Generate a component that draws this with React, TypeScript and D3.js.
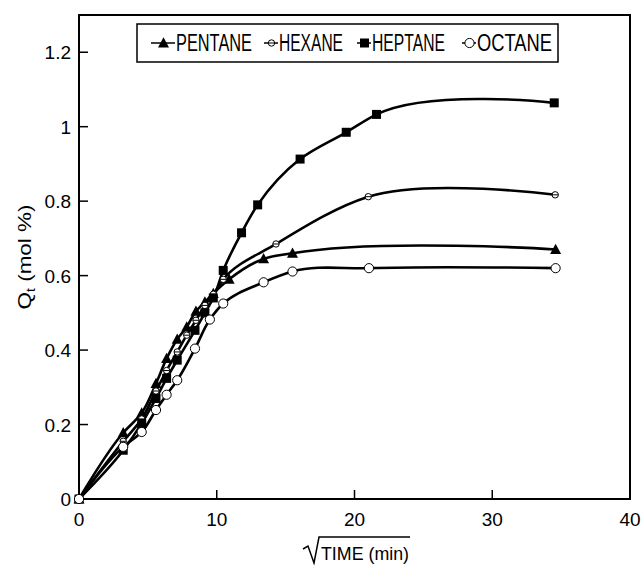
import React from "react";
import * as d3 from "d3";

const pentaneX = [0, 3.21, 4.55, 5.59, 6.36, 7.13, 7.82, 8.49, 9.14, 9.75, 10.9, 13.4, 15.5, 34.6];
const pentaneY = [0, 0.178, 0.231, 0.31, 0.377, 0.429, 0.462, 0.504, 0.529, 0.552, 0.59, 0.645, 0.66, 0.67];

const hexaneX = [0, 3.21, 4.55, 5.59, 6.36, 7.13, 7.82, 8.49, 9.14, 9.75, 10.47, 14.3, 21.0, 34.57];
const hexaneY = [0, 0.155, 0.215, 0.29, 0.345, 0.395, 0.44, 0.48, 0.52, 0.55, 0.59, 0.685, 0.812, 0.817];

const heptaneX = [0, 3.21, 4.55, 5.59, 6.36, 7.13, 8.42, 9.14, 9.75, 10.47, 11.8, 12.97, 16.05, 19.4, 21.6, 34.5];
const heptaneY = [0, 0.131, 0.203, 0.27, 0.324, 0.373, 0.453, 0.5, 0.54, 0.614, 0.715, 0.79, 0.913, 0.985, 1.033, 1.064];

const octaneX = [0, 3.21, 4.55, 5.59, 6.36, 7.13, 8.42, 9.5, 10.47, 13.4, 15.5, 21.05, 34.6];
const octaneY = [0, 0.14, 0.18, 0.239, 0.28, 0.319, 0.404, 0.482, 0.525, 0.582, 0.611, 0.62, 0.62];

const seriesNames = ["PENTANE", "HEXANE", "HEPTANE", "OCTANE"];
const xTicks = [0, 10, 20, 30, 40];
const yTicks = [0, 0.2, 0.4, 0.6, 0.8, 1, 1.2];

const W = 642, H = 565;
const L = 79, R = 630, T = 15, B = 499;

const FONT = "'Liberation Sans Narrow', 'Liberation Sans', Arial, sans-serif";

function Marker({ kind, x, y }: { kind: string; x: number; y: number }) {
  if (kind === "PENTANE") {
    const s = 5.5;
    return <path d={`M${x},${y - s * 1.05}L${x + s},${y + s * 0.8}L${x - s},${y + s * 0.8}Z`} fill="#000" />;
  }
  if (kind === "HEXANE") {
    return (
      <g>
        <circle cx={x} cy={y} r={3.2} fill="#fff" stroke="#000" strokeWidth={1} />
        <line x1={x - 3.2} x2={x + 3.2} y1={y} y2={y} stroke="#000" strokeWidth={1} />
      </g>
    );
  }
  if (kind === "HEPTANE") {
    return <rect x={x - 4.5} y={y - 4.5} width={9} height={9} fill="#000" />;
  }
  return <circle cx={x} cy={y} r={4.6} fill="#fff" stroke="#000" strokeWidth={1} />;
}

export default function App() {
  const x = d3.scaleLinear().domain([0, 40]).range([L, R]);
  const y = d3.scaleLinear().domain([0, 1.3]).range([B, T]);

  const data: { name: string; xs: number[]; ys: number[] }[] = [
    { name: "PENTANE", xs: pentaneX, ys: pentaneY },
    { name: "HEXANE", xs: hexaneX, ys: hexaneY },
    { name: "HEPTANE", xs: heptaneX, ys: heptaneY },
    { name: "OCTANE", xs: octaneX, ys: octaneY },
  ];

  const line = d3
    .line<[number, number]>()
    .x((d) => x(d[0]))
    .y((d) => y(d[1]))
    .curve(d3.curveCatmullRom.alpha(1));

  const legendItems = [
    { name: seriesNames[0], sx: 151, tx: 176, tw: 76 },
    { name: seriesNames[1], sx: 264, tx: 279, tw: 64 },
    { name: seriesNames[2], sx: 357, tx: 372, tw: 73 },
    { name: seriesNames[3], sx: 462, tx: 477, tw: 75 },
  ];

  return (
    <svg width={W} height={H} style={{ position: "absolute", left: 0, top: 0, background: "#fff" }}>
      <rect x={0} y={0} width={W} height={H} fill="#fff" />
      <rect x={L} y={T} width={R - L} height={B - T} fill="none" stroke="#000" strokeWidth={2} />
      {yTicks.map((t) => (
        <g key={"y" + t}>
          <line x1={L} x2={L + 9} y1={y(t)} y2={y(t)} stroke="#000" strokeWidth={1.5} />
          <text x={L - 8} y={y(t) + 7} textAnchor="end" fontFamily={FONT} fontSize={19} fill="#000">
            {String(t)}
          </text>
        </g>
      ))}
      {xTicks.map((t) => (
        <g key={"x" + t}>
          {t > 0 && t < 40 && (
            <line x1={x(t)} x2={x(t)} y1={B} y2={B - 9} stroke="#000" strokeWidth={1.5} />
          )}
          <text x={x(t)} y={B + 27} textAnchor="middle" fontFamily={FONT} fontSize={19} fill="#000">
            {String(t)}
          </text>
        </g>
      ))}
      <path d="M303,549 L308,546 L314,563 L319,537 L410,537" fill="none" stroke="#000" strokeWidth={1.5} />
      <text x={321} y={560} fontFamily={FONT} fontSize={19} fill="#000" textLength={88} lengthAdjust="spacingAndGlyphs">
        TIME (min)
      </text>
      <text
        transform={`translate(31,257) rotate(-90)`}
        textAnchor="middle"
        fontFamily={FONT}
        fontSize={19}
        fill="#000"
        textLength={105}
        lengthAdjust="spacingAndGlyphs"
      >
        Q<tspan fontSize={12} dy={4}>t</tspan>
        <tspan dy={-4}> (mol %)</tspan>
      </text>
      {data.map((s) => (
        <path
          key={s.name}
          d={line(s.xs.map((v, i) => [v, s.ys[i]] as [number, number])) || ""}
          fill="none"
          stroke="#000"
          strokeWidth={2.6}
        />
      ))}
      {data.map((s) =>
        s.xs.map((v, i) => <Marker key={s.name + i} kind={s.name} x={x(v)} y={y(s.ys[i])} />)
      )}
      <rect x={137} y={24} width={421} height={38} fill="#fff" stroke="#000" strokeWidth={1.5} />
      {legendItems.map((it) => (
        <g key={it.name}>
          <line x1={it.sx} x2={it.tx - 1} y1={43} y2={43} stroke="#000" strokeWidth={1.5} />
          <Marker kind={it.name} x={(it.sx + it.tx) / 2} y={43} />
          <text
            x={it.tx}
            y={51}
            fontFamily={FONT}
            fontSize={23}
            fill="#000"
            textLength={it.tw}
            lengthAdjust="spacingAndGlyphs"
          >
            {it.name}
          </text>
        </g>
      ))}
    </svg>
  );
}
